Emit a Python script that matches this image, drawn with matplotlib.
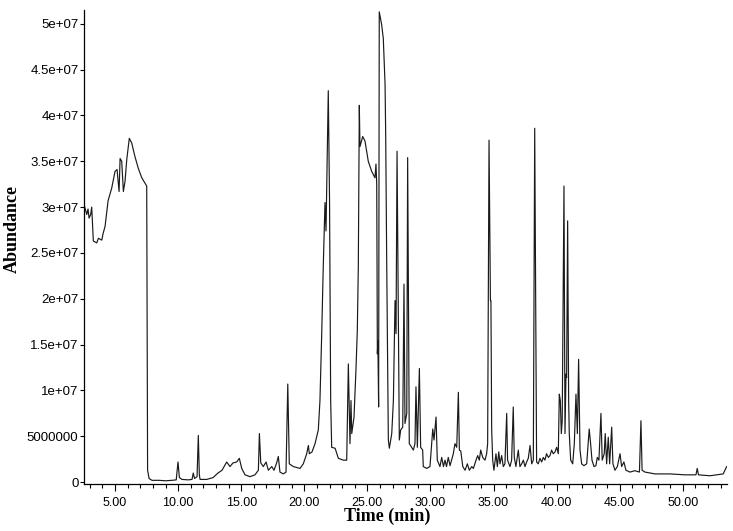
import numpy as np
import matplotlib.pyplot as plt

# retention time (min) and abundance (x 1e6)
time_min = [
    2.54, 2.62, 2.76, 2.86, 2.94, 3.07, 3.15, 3.20, 3.28, 3.55, 3.68, 3.95, 4.05, 4.21,
    4.45, 4.74, 5.00, 5.16, 5.32, 5.40, 5.53, 5.66, 5.79, 5.93, 6.13, 6.32, 6.58, 6.85,
    7.12, 7.51, 7.58, 7.70, 7.93,
    8.50, 9.00, 9.50, 9.85, 9.99, 10.10, 10.30, 10.80, 11.10, 11.20, 11.30, 11.50, 11.60,
    11.68, 11.74,
    12.27, 12.77, 13.16, 13.48, 13.85, 14.11, 14.35, 14.64, 14.85, 15.04, 15.30, 15.70,
    16.09, 16.36, 16.44, 16.55, 16.75, 16.97, 17.15, 17.42, 17.60, 17.81, 17.94, 18.07,
    18.34, 18.55, 18.69, 18.81, 19.13, 19.66, 19.92, 20.19, 20.32, 20.40, 20.61, 20.85,
    21.11, 21.24, 21.38, 21.50, 21.64, 21.72, 21.90, 22.00, 22.09, 22.17, 22.44, 22.70,
    23.09, 23.36, 23.49, 23.62, 23.70, 23.76, 23.94, 24.10, 24.20, 24.28, 24.36, 24.41,
    24.63, 24.81, 25.07, 25.34, 25.60, 25.68, 25.74, 25.79, 25.83, 25.89, 25.94, 26.13,
    26.26, 26.32, 26.40, 26.45, 26.53, 26.66, 26.74, 26.93, 27.06, 27.19, 27.27, 27.35,
    27.53, 27.64, 27.80, 27.90, 27.98, 28.12, 28.19, 28.32, 28.51, 28.64, 28.77, 28.85,
    28.96, 29.12, 29.22, 29.38, 29.43, 29.70, 29.96, 30.18, 30.28, 30.44, 30.54, 30.75,
    30.89, 31.03, 31.15, 31.27, 31.41, 31.55, 31.81, 31.94, 32.08, 32.21, 32.29, 32.40,
    32.56, 32.74, 32.92, 33.08, 33.27, 33.40, 33.61, 33.74, 33.87, 33.98, 34.14, 34.32,
    34.45, 34.53, 34.64, 34.75, 34.79, 34.85, 34.93, 35.03, 35.19, 35.30, 35.41, 35.51,
    35.64, 35.77, 35.90, 36.04, 36.11, 36.30, 36.43, 36.56, 36.64, 36.77, 36.96, 37.09,
    37.23, 37.36, 37.49, 37.62, 37.75, 37.89, 38.02, 38.15, 38.26, 38.41, 38.54, 38.68,
    38.81, 38.94, 39.07, 39.20, 39.34, 39.47, 39.60, 39.73, 39.87, 40.00, 40.13, 40.21,
    40.29, 40.37, 40.44, 40.58, 40.66, 40.74, 40.79, 40.87, 40.95, 41.00, 41.11, 41.27,
    41.40, 41.53, 41.64, 41.74, 41.85, 41.98, 42.16, 42.38, 42.58, 42.69, 42.80, 42.96,
    43.11, 43.22, 43.35, 43.51, 43.61, 43.77, 43.85, 43.96, 44.09, 44.20, 44.36, 44.46,
    44.62, 44.81, 45.02, 45.15, 45.33, 45.49, 45.81, 46.20, 46.56, 46.68, 46.77, 47.00,
    47.79, 48.98, 50.17, 51.04, 51.14, 51.24, 52.15, 53.20, 53.47,
]
abundance_e6 = [
    30.3, 29.9, 29.2, 29.8, 28.8, 29.2, 30.0, 28.5, 26.3, 26.1, 26.6, 26.4, 27.1, 27.9,
    30.7, 32.1, 33.9, 34.1, 31.7, 35.3, 35.0, 31.7, 32.8, 35.2, 37.5, 37.0, 35.5, 34.2,
    33.2, 32.3, 1.3, 0.4, 0.2,
    0.2, 0.15, 0.2, 0.25, 2.2, 0.5, 0.3, 0.25, 0.3, 1.0, 0.4, 0.6, 5.1,
    0.8, 0.3,
    0.3, 0.5, 1.0, 1.3, 2.2, 1.7, 2.1, 2.2, 2.6, 1.5, 0.8, 0.6,
    0.8, 1.3, 5.3, 2.1, 1.7, 2.2, 1.3, 1.7, 1.3, 2.1, 2.8, 1.1,
    0.9, 1.1, 10.7, 2.0, 1.7, 1.5, 2.0, 3.1, 4.0, 3.1, 3.3, 4.2,
    5.7, 8.9, 16.2, 23.4, 30.5, 27.4, 42.7, 30.7, 8.9, 3.8, 3.7, 2.6,
    2.4, 2.4, 12.9, 4.2, 8.9, 5.3, 7.1, 12.5, 16.5, 23.4, 41.1, 36.6,
    37.7, 37.2, 35.0, 33.9, 33.2, 34.7, 32.5, 14.0, 15.4, 8.2, 51.3, 49.9,
    48.4, 46.2, 43.4, 37.9, 24.1, 4.6, 3.7, 5.3, 8.9, 19.8, 16.2, 36.1,
    4.6, 5.7, 6.0, 21.6, 6.4, 7.5, 35.4, 4.2, 3.8, 3.5, 4.2, 10.4,
    3.8, 12.4, 3.8, 3.5, 1.7, 1.5, 1.7, 5.8, 4.6, 7.1, 2.4, 1.7,
    2.7, 1.7, 2.4, 1.7, 2.7, 1.8, 3.1, 4.2, 3.8, 9.8, 3.5, 3.4,
    1.7, 1.3, 2.0, 1.3, 1.7, 1.5, 2.4, 2.9, 2.4, 3.5, 2.7, 2.4,
    3.1, 4.2, 37.3, 19.8, 19.8, 5.7, 2.4, 1.3, 3.1, 1.7, 3.3, 2.0,
    2.9, 1.7, 2.0, 7.5, 2.4, 1.7, 2.4, 8.2, 2.7, 1.7, 3.5, 1.7,
    2.0, 2.4, 1.7, 2.2, 2.6, 4.0, 2.0, 2.4, 38.6, 2.2, 2.0, 2.6,
    2.2, 2.7, 2.4, 3.1, 2.7, 2.9, 3.5, 3.1, 3.3, 3.8, 3.1, 9.6,
    8.9, 5.3, 6.7, 32.3, 5.3, 11.8, 11.4, 28.5, 8.9, 5.3, 2.4, 2.0,
    4.2, 9.6, 5.3, 13.4, 3.5, 2.0, 1.8, 2.0, 5.8, 4.2, 2.4, 1.7,
    1.8, 2.7, 2.4, 7.5, 2.4, 3.1, 5.3, 2.0, 4.9, 2.0, 6.0, 2.0,
    1.3, 1.7, 3.1, 1.7, 2.2, 1.3, 1.1, 1.25, 1.1, 6.7, 1.3, 1.1,
    0.9, 0.9, 0.8, 0.8, 1.5, 0.8, 0.7, 0.9, 1.7,
]

x_ticks = [5, 10, 15, 20, 25, 30, 35, 40, 45, 50]
x_tick_labels = ["5.00", "10.00", "15.00", "20.00", "25.00", "30.00", "35.00", "40.00", "45.00", "50.00"]
y_ticks = [0, 5e6, 1e7, 1.5e7, 2e7, 2.5e7, 3e7, 3.5e7, 4e7, 4.5e7, 5e7]
y_tick_labels = ["0", "5000000", "1e+07", "1.5e+07", "2e+07", "2.5e+07", "3e+07",
                 "3.5e+07", "4e+07", "4.5e+07", "5e+07"]

t = np.array(time_min)
y = np.array(abundance_e6) * 1e6

fig = plt.figure(figsize=(7.33, 5.31), dpi=100)
ax = fig.add_axes([84 / 733, 1 - 484 / 531, 643 / 733, 474 / 531])

ax.plot(t, y, color="#1a1a1a", lw=0.85)

ax.set_xlim(2.54, 53.5)
ax.set_ylim(-0.2e6, 5.15e7)

ax.set_xticks(x_ticks)
ax.set_xticklabels(x_tick_labels, fontname="Liberation Sans", fontsize=9)
ax.set_xticks(np.arange(3, 54, 1), minor=True)
ax.set_yticks(y_ticks)
ax.set_yticklabels(y_tick_labels, fontname="Liberation Sans", fontsize=9.5)

ax.tick_params(axis="x", which="major", length=5, width=0.8, pad=4)
ax.tick_params(axis="x", which="minor", length=3, width=0.8)
ax.tick_params(axis="y", length=3, width=0.8, pad=1)

for side in ["top", "right"]:
    ax.spines[side].set_visible(False)
for side in ["left", "bottom"]:
    ax.spines[side].set_linewidth(0.9)

ax.set_xlabel("Time (min)", fontname="Liberation Serif", fontweight="bold", fontsize=13)
ax.set_ylabel("Abundance", fontname="Liberation Serif", fontweight="bold", fontsize=13)
ax.xaxis.set_label_coords(0.471, -0.051)
ax.yaxis.set_label_coords(-0.098, 0.539)

fig.savefig("out.png", dpi=100)
